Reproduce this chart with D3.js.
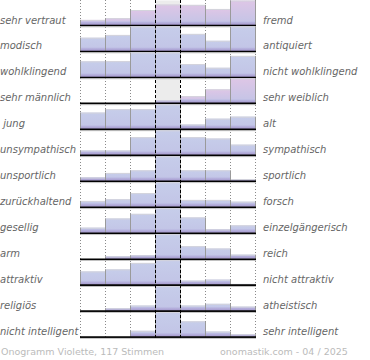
<!DOCTYPE html>
<html><head><meta charset="utf-8">
<script src="https://cdn.jsdelivr.net/npm/d3@7"></script>
<style>
html,body{margin:0;padding:0;background:#fff;}
svg{display:block;}
text{font-family:"DejaVu Sans",sans-serif;}
</style></head>
<body>
<script>
const leftLabels = ["sehr vertraut","modisch","wohlklingend","sehr männlich"," jung","unsympathisch","unsportlich","zurückhaltend","gesellig","arm","attraktiv","religiös","nicht intelligent"];
const rightLabels = ["fremd","antiquiert","nicht wohlklingend","sehr weiblich","alt","sympathisch","sportlich","forsch","einzelgängerisch","reich","nicht attraktiv","atheistisch","sehr intelligent"];
const bins = [0,1,2,3,4,5,6];
const values = [
  [5,6.7,14.7,20,19.7,15.7,26],
  [13,15.7,26,26,16.7,10,26],
  [15.3,15.5,26,26,12.6,9,20.6],
  [0,0,0,2.5,6.6,13.3,26],
  [16,19.3,19.3,26,4.3,10,12],
  [4.3,4.3,17.3,26,17.3,16,10],
  [3.3,7.7,10.3,26,10.3,10.3,1.7],
  [5.7,7.4,13.4,26,6.7,6.7,5],
  [5,14,18.5,26,15,3.3,7.3],
  [0,2.3,3.3,26,12.3,10,4],
  [13,15,21.3,26,4,5,0.7],
  [0,2.3,5,26,5,6.7,4],
  [0,0,5.7,26,15,5,2.3]
];
const footerLeft = "Onogramm Violette, 117 Stimmen";
const footerRight = "onomastik.com - 04 / 2025";

const W = 370, H = 360;
const svg = d3.select("body").append("svg").attr("width", W).attr("height", H);

const x = d3.scaleBand().domain(bins).range([80, 255]).padding(0);
const yRow = d3.scaleLinear().domain([0, leftLabels.length - 1]).range([25, 336.6]);
const h = d3.scaleLinear().domain([0, 24]).range([0, 24.5]).clamp(true);

const defs = svg.append("defs");
function grad(id, top) {
  const g = defs.append("linearGradient").attr("id", id).attr("x1",0).attr("y1",0).attr("x2",0).attr("y2",1);
  g.append("stop").attr("offset","0%").attr("stop-color", top);
  g.append("stop").attr("offset","100%").attr("stop-color", "#c2c4e6");
}
grad("gBlue", "#c6cdea");
grad("gPink", "#dec6e6");
const gs = defs.append("linearGradient").attr("id","gStrip").attr("x1",0).attr("y1",0).attr("x2",0).attr("y2",1);
gs.append("stop").attr("offset","0%").attr("stop-color","#bdbde4");
gs.append("stop").attr("offset","100%").attr("stop-color","#a496cc");

// center column background
svg.append("g").selectAll("rect").data(values).join("rect")
  .attr("x", x(3)).attr("width", x.bandwidth())
  .attr("y", (d,i) => yRow(i) - h(24)).attr("height", h(24))
  .attr("fill", "#ececec");

// dotted grid lines
const dotted = [0,1,2,5,6,7];
svg.append("g").selectAll("line").data(dotted).join("line")
  .attr("x1", d => (d < 7 ? x(d) : x(6) + x.bandwidth()) + 0.5)
  .attr("x2", d => (d < 7 ? x(d) : x(6) + x.bandwidth()) + 0.5)
  .attr("y1", 0).attr("y2", yRow(12) + 2)
  .attr("stroke", "#8a8a8a").attr("stroke-dasharray", "1,2");

// bars
values.forEach((row, i) => {
  const maxIdx = row.indexOf(d3.max(row));
  const fill = maxIdx > 3 ? "url(#gPink)" : "url(#gBlue)";
  const g = svg.append("g");
  const base = yRow(i);
  const data = row.map((v, j) => ({v, j})).filter(d => d.v > 0);
  g.selectAll("rect.bar").data(data).join("rect").attr("class","bar")
    .attr("x", d => x(d.j)).attr("width", x.bandwidth())
    .attr("y", d => base - h(d.v)).attr("height", d => h(d.v))
    .attr("fill", fill);
  g.selectAll("rect.strip").data(data).join("rect").attr("class","strip")
    .attr("x", d => x(d.j)).attr("width", x.bandwidth())
    .attr("y", d => base - Math.min(h(d.v), 3.5)).attr("height", d => Math.min(h(d.v), 3.5))
    .attr("fill", "url(#gStrip)");
  g.selectAll("line.top").data(data).join("line").attr("class","top")
    .attr("x1", d => x(d.j)).attr("x2", d => x(d.j) + x.bandwidth())
    .attr("y1", d => base - h(d.v) + 0.5).attr("y2", d => base - h(d.v) + 0.5)
    .attr("stroke", "#d4d4dc").attr("stroke-width", 1);
  g.selectAll("line.l").data(data).join("line").attr("class","l")
    .attr("x1", d => x(d.j) + 0.5).attr("x2", d => x(d.j) + 0.5)
    .attr("y1", d => base - h(d.v)).attr("y2", base)
    .attr("stroke", "#9a9a9a");
  g.selectAll("line.r").data(data).join("line").attr("class","r")
    .attr("x1", d => x(d.j) + x.bandwidth() + 0.5).attr("x2", d => x(d.j) + x.bandwidth() + 0.5)
    .attr("y1", d => base - h(d.v)).attr("y2", base)
    .attr("stroke", "#9a9a9a");
  g.append("line")
    .attr("x1", x(0)).attr("x2", x(6) + x.bandwidth() + 1)
    .attr("y1", base + 0.5).attr("y2", base + 0.5)
    .attr("stroke", "#000").attr("stroke-width", 1.6);
  g.append("line")
    .attr("x1", x(0)).attr("x2", x(6) + x.bandwidth() + 1)
    .attr("y1", base + 1.8).attr("y2", base + 1.8)
    .attr("stroke", "#b0b0b0").attr("stroke-width", 0.8);
});

// dashed center lines
svg.append("g").selectAll("line").data([3,4]).join("line")
  .attr("x1", d => x(d) + 0.5).attr("x2", d => x(d) + 0.5)
  .attr("y1", 0).attr("y2", yRow(12) + 2)
  .attr("stroke", "#000").attr("stroke-dasharray", "3,2");

// labels
svg.append("g").selectAll("text").data(leftLabels).join("text")
  .attr("x", 0).attr("y", (d,i) => yRow(i) - 1.5)
  .attr("font-size", "10px").attr("font-style", "italic").attr("fill", "#666")
  .attr("xml:space", "preserve").style("white-space","pre")
  .text(d => d);
svg.append("g").selectAll("text").data(rightLabels).join("text")
  .attr("x", 263).attr("y", (d,i) => yRow(i) - 1.5)
  .attr("font-size", "10px").attr("font-style", "italic").attr("fill", "#666")
  .text(d => d);

svg.append("text").attr("x", 1).attr("y", 355)
  .attr("font-size", "9.5px").attr("fill", "#bbb").text(footerLeft);
svg.append("text").attr("x", 220).attr("y", 355)
  .attr("font-size", "9.5px").attr("fill", "#bbb").text(footerRight);
</script>
</body></html>
